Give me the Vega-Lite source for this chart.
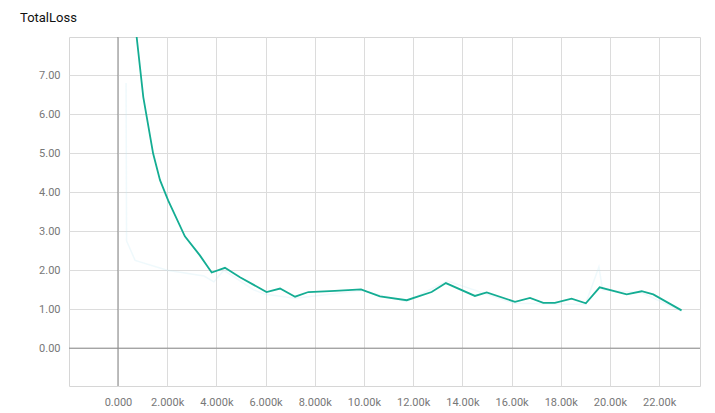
{
  "$schema": "https://vega.github.io/schema/vega-lite/v6.json",
  "width": 631,
  "height": 349,
  "autosize": "none",
  "padding": {"left": 69, "top": 37, "right": 15, "bottom": 27},
  "title": {
    "text": "TotalLoss",
    "anchor": "start",
    "frame": "group",
    "dx": -49,
    "offset": 12,
    "fontSize": 13,
    "font": "Roboto",
    "fontWeight": "normal",
    "color": "#111"
  },
  "config": {
    "view": {"stroke": "#d6d6d6", "strokeWidth": 1},
    "axis": {
      "labelFont": "Roboto",
      "labelFontSize": 11,
      "labelColor": "#777",
      "gridColor": "#dcdcdc",
      "gridWidth": 1,
      "domain": false,
      "ticks": false,
      "title": null
    }
  },
  "datasets": {
    "smooth": [
      {"step": 500, "loss": 9.5},
      {"step": 760, "loss": 7.98},
      {"step": 1030, "loss": 6.44},
      {"step": 1430, "loss": 4.99},
      {"step": 1710, "loss": 4.31},
      {"step": 2040, "loss": 3.79},
      {"step": 2720, "loss": 2.87},
      {"step": 3330, "loss": 2.38},
      {"step": 3810, "loss": 1.94},
      {"step": 4350, "loss": 2.06},
      {"step": 4960, "loss": 1.82},
      {"step": 6040, "loss": 1.44},
      {"step": 6590, "loss": 1.53},
      {"step": 7200, "loss": 1.32},
      {"step": 7740, "loss": 1.44},
      {"step": 8820, "loss": 1.47},
      {"step": 9880, "loss": 1.51},
      {"step": 10650, "loss": 1.33},
      {"step": 11740, "loss": 1.23},
      {"step": 12750, "loss": 1.44},
      {"step": 13330, "loss": 1.67},
      {"step": 14510, "loss": 1.34},
      {"step": 14990, "loss": 1.43},
      {"step": 16140, "loss": 1.19},
      {"step": 16750, "loss": 1.29},
      {"step": 17290, "loss": 1.16},
      {"step": 17760, "loss": 1.16},
      {"step": 18440, "loss": 1.27},
      {"step": 19020, "loss": 1.15},
      {"step": 19580, "loss": 1.56},
      {"step": 20680, "loss": 1.38},
      {"step": 21290, "loss": 1.46},
      {"step": 21760, "loss": 1.38},
      {"step": 22910, "loss": 0.97}
    ],
    "raw": [
      {"step": 330, "loss": 6.8},
      {"step": 350, "loss": 2.75},
      {"step": 700, "loss": 2.25},
      {"step": 2000, "loss": 2.0},
      {"step": 3500, "loss": 1.85},
      {"step": 3900, "loss": 1.7},
      {"step": 4300, "loss": 2.0},
      {"step": 5500, "loss": 1.5},
      {"step": 6000, "loss": 1.38},
      {"step": 7200, "loss": 1.28},
      {"step": 9900, "loss": 1.48},
      {"step": 11700, "loss": 1.2},
      {"step": 13400, "loss": 1.72},
      {"step": 16100, "loss": 1.15},
      {"step": 19000, "loss": 1.12},
      {"step": 19550, "loss": 2.08},
      {"step": 19700, "loss": 1.5},
      {"step": 21300, "loss": 1.42},
      {"step": 22900, "loss": 0.95}
    ],
    "zero": [{"v": 0}]
  },
  "layer": [
    {
      "data": {"name": "raw"},
      "mark": {"type": "line", "color": "#bfe9f2", "opacity": 0.25, "strokeWidth": 1.5, "clip": true},
      "encoding": {
        "x": {
          "field": "step",
          "type": "quantitative",
          "scale": {"domain": [-1990, 23660], "nice": false, "zero": false},
          "axis": {"values": [0, 2000, 4000, 6000, 8000, 10000, 12000, 14000, 16000, 18000, 20000, 22000], "format": ".4s", "labelPadding": 10}
        },
        "y": {
          "field": "loss",
          "type": "quantitative",
          "scale": {"domain": [-0.97, 7.98], "nice": false, "zero": false},
          "axis": {"values": [0, 1, 2, 3, 4, 5, 6, 7], "format": ".2f", "labelPadding": 9}
        }
      }
    },
    {
      "data": {"name": "zero"},
      "mark": {"type": "rule", "color": "#8a8a8a", "strokeWidth": 1},
      "encoding": {"x": {"field": "v", "type": "quantitative"}}
    },
    {
      "data": {"name": "zero"},
      "mark": {"type": "rule", "color": "#8a8a8a", "strokeWidth": 1},
      "encoding": {"y": {"field": "v", "type": "quantitative"}}
    },
    {
      "data": {"name": "smooth"},
      "mark": {"type": "line", "color": "#14ad93", "strokeWidth": 1.8, "clip": true},
      "encoding": {
        "x": {"field": "step", "type": "quantitative"},
        "y": {"field": "loss", "type": "quantitative"}
      }
    }
  ]
}
